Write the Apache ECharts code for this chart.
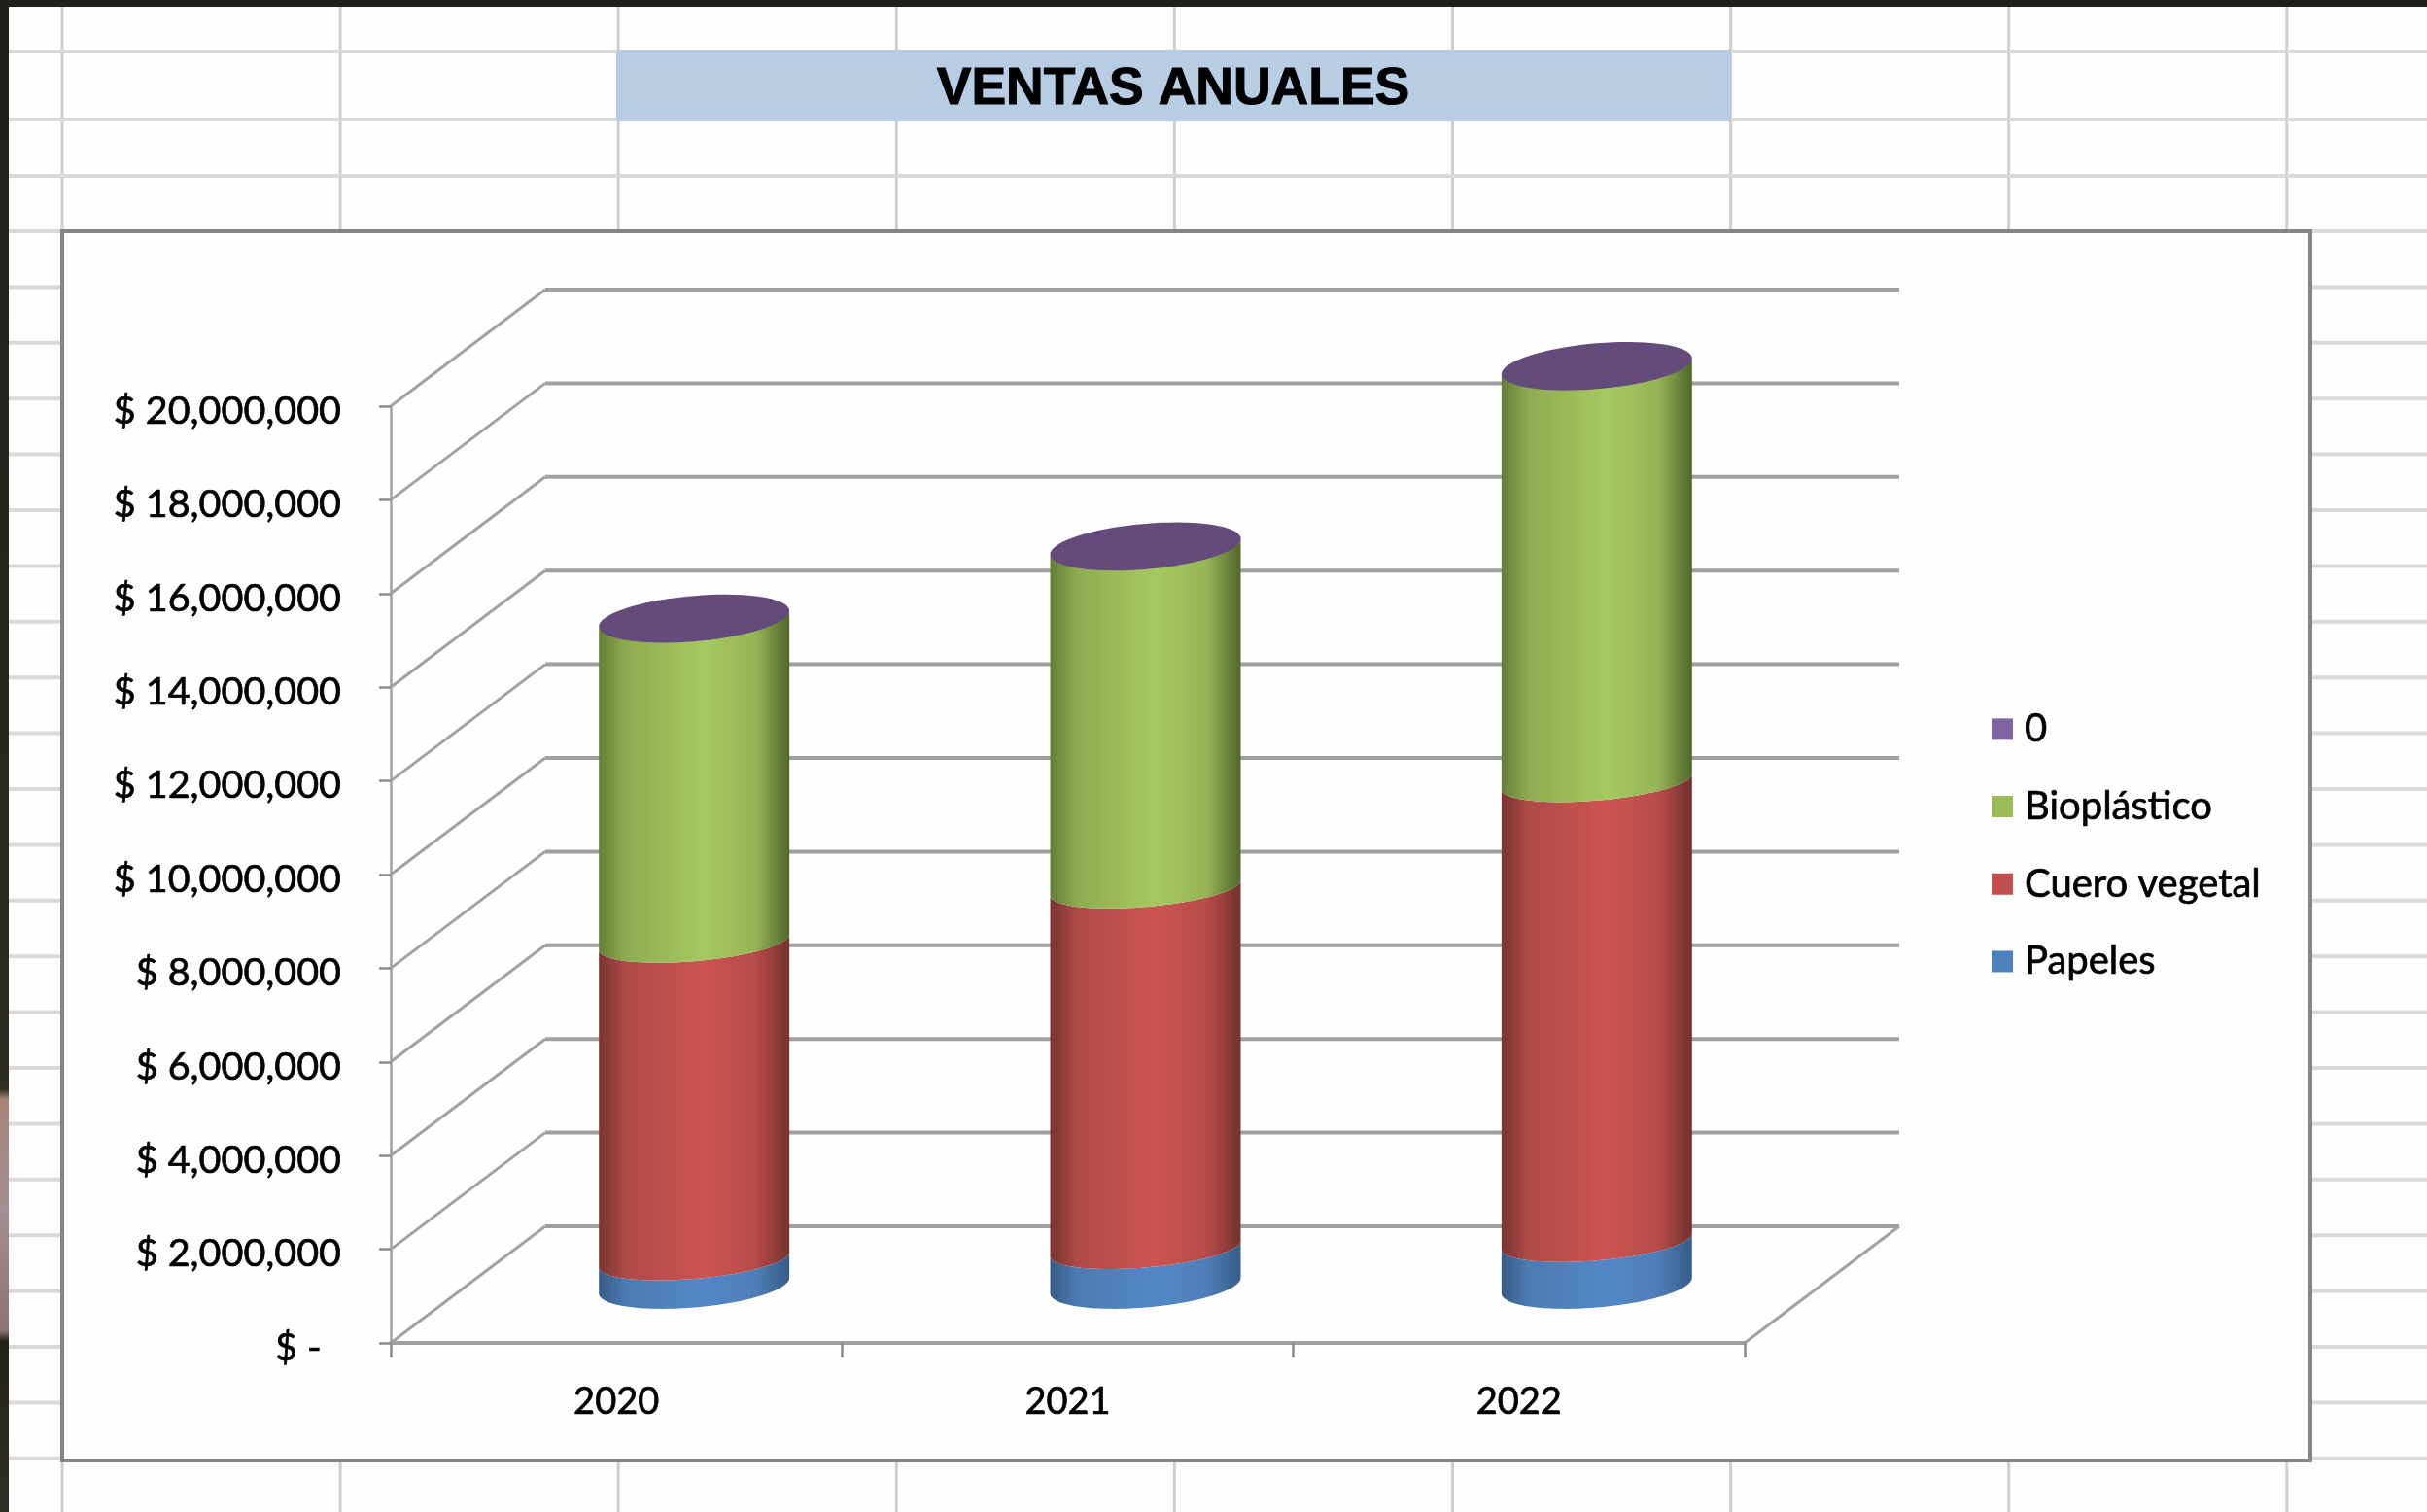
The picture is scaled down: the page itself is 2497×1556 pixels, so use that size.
<!DOCTYPE html>
<html>
<head>
<meta charset="utf-8">
<title>VENTAS ANUALES</title>
<script src="https://cdn.jsdelivr.net/npm/echarts@6/dist/echarts.min.js"></script>
<style>
  html, body { margin: 0; padding: 0; background: #fff; overflow: hidden; }
  #myChart { width: 2497px; height: 1556px; }
  #myChart canvas { filter: blur(0.7px); }
</style>
</head>
<body>
<div id="myChart"></div>
<script>
const years = ['2020', '2021', '2022']
const papeles = [550000, 790000, 940000]
const cueroVegetal = [6780000, 7700000, 9820000]
const bioplastico = [6910000, 7290000, 8870000]
const cero = [0, 0, 0]
const yTicks = [0, 2000000, 4000000, 6000000, 8000000, 10000000, 12000000, 14000000, 16000000, 18000000, 20000000]

// depth of the fake 3d box, in pixels
const depthX = 159
const depthY = -120
// cylinders stand in the middle of that depth
const midX = 80
const midY = -59

const shades = {
  blue: ['#385c85', '#4b7bb0', '#5487c8', '#4f7fb8', '#375d88'],
  red: ['#7a3532', '#ae4a48', '#cc5350', '#b64c4a', '#753230'],
  green: ['#657d3a', '#8fab50', '#a5c860', '#96b557', '#51672d']
}

function gradient(c) {
  return new echarts.graphic.LinearGradient(0, 0, 1, 0, [
    { offset: 0, color: c[0] },
    { offset: 0.14, color: c[1] },
    { offset: 0.55, color: c[2] },
    { offset: 0.82, color: c[3] },
    { offset: 1, color: c[4] }
  ])
}

// front half of the tilted ellipse, left tip to right tip
function frontArc(cx, cy, rx, ry) {
  const pts = []
  for (let i = 0; i <= 48; i++) {
    const t = Math.PI - (Math.PI * i) / 48
    pts.push([cx + rx * Math.cos(t), cy - rx * 0.082 * Math.cos(t) + ry * Math.sin(t)])
  }
  return pts
}

function cylinder(shade) {
  return function(params, api) {
    const bottom = api.coord([api.value(0), api.value(1)])
    const top = api.coord([api.value(0), api.value(2)])
    const rx = api.size([1, 0])[0] * 0.211
    const cx = bottom[0] + midX
    const lower = frontArc(cx, bottom[1] + midY, rx, api.value(1) === 0 ? 22.5 : 19.5)
    const upper = frontArc(cx, top[1] + midY, rx, 19.5).reverse()
    return {
      type: 'polygon',
      shape: { points: lower.concat(upper) },
      style: { fill: gradient(shade) }
    }
  }
}

function cap(params, api) {
  const top = api.coord([api.value(0), api.value(2)])
  const rx = api.size([1, 0])[0] * 0.211
  const cx = top[0] + midX
  const cy = top[1] + midY
  const pts = []
  for (let i = 0; i < 72; i++) {
    const t = (Math.PI * 2 * i) / 72
    pts.push([cx + rx * Math.cos(t), cy - rx * 0.082 * Math.cos(t) + 23.5 * Math.sin(t)])
  }
  return { type: 'polygon', shape: { points: pts }, style: { fill: '#644b7c' } }
}

// walls and floor lines, one set for each y tick
function wall(params, api) {
  const y = api.coord([0, api.value(1)])[1]
  const left = params.coordSys.x
  const right = left + params.coordSys.width
  const lineH = { stroke: '#a0a0a0', lineWidth: 4 }
  const lineD = { stroke: '#a2a2a2', lineWidth: 3 }
  const children = [
    { type: 'line', shape: { x1: left, y1: y, x2: left + depthX, y2: y + depthY }, style: lineD },
    { type: 'line', shape: { x1: left + depthX, y1: y + depthY, x2: right + depthX, y2: y + depthY }, style: lineH }
  ]
  if (api.value(1) === 0) {
    children.push({ type: 'line', shape: { x1: right, y1: y, x2: right + depthX, y2: y + depthY }, style: lineD })
  }
  return { type: 'group', children: children }
}

function stackedFrom(values, below) {
  return values.map((v, i) => {
    const base = below.reduce((acc, cur) => acc + cur[i], 0)
    return [i, base, base + v]
  })
}

function sheetGraphics() {
  const out = []
  out.push({ type: 'rect', z: -30, shape: { x: 0, y: 0, width: 2497, height: 1556 }, style: { fill: '#fdfdfd' } })
  for (let x = 64; x < 2497; x += 286.1) {
    out.push({ type: 'line', z: -20, shape: { x1: x, y1: 7, x2: x, y2: 1556 }, style: { stroke: '#cfcfcf', lineWidth: 3 } })
  }
  const rows = [53, 123, 181]
  for (let i = 0; i < 24; i++) rows.push(238 + 57.4 * i)
  rows.forEach(y => {
    out.push({ type: 'line', z: -20, shape: { x1: 9, y1: y, x2: 2497, y2: y }, style: { stroke: '#d9d9d9', lineWidth: 4 } })
  })
  // window edge behind the sheet
  out.push({ type: 'rect', z: -10, shape: { x: 0, y: 0, width: 2497, height: 7 }, style: { fill: '#20201b' } })
  out.push({
    type: 'rect',
    z: -10,
    shape: { x: 0, y: 0, width: 9, height: 1556 },
    style: {
      fill: new echarts.graphic.LinearGradient(0, 0, 0, 1, [
        { offset: 0, color: '#20201b' },
        { offset: 0.6, color: '#2a2a22' },
        { offset: 0.72, color: '#2f2c20' },
        { offset: 0.727, color: '#a88378' },
        { offset: 0.8, color: '#a39090' },
        { offset: 0.88, color: '#8e7270' },
        { offset: 0.887, color: '#23231b' },
        { offset: 1, color: '#332e24' }
      ])
    }
  })
  // title band
  out.push({ type: 'rect', z: -5, shape: { x: 634, y: 51, width: 1147, height: 74 }, style: { fill: '#b8cce4' } })
  // chart frame
  out.push({
    type: 'rect',
    z: -5,
    shape: { x: 64, y: 238, width: 2313, height: 1265 },
    style: { fill: '#fefefe', stroke: '#858585', lineWidth: 4 }
  })
  return out
}

const myChart = echarts.init(document.getElementById('myChart'))
const textFont = 'Lato'
const heavy = { textBorderColor: '#000', textBorderWidth: 0.7 }
const option = {
  animation: false,
  backgroundColor: '#fff',
  graphic: { elements: sheetGraphics() },
  title: {
    text: 'VENTAS ANUALES',
    left: 1202,
    top: 60,
    textAlign: 'center',
    textStyle: { fontFamily: 'Liberation Sans', fontWeight: 'bold', fontSize: 53.5, color: '#000', textBorderColor: '#000', textBorderWidth: 1 }
  },
  legend: {
    data: ['0', 'Bioplástico', 'Cuero vegetal', 'Papeles'],
    orient: 'vertical',
    left: 2044,
    top: 725,
    itemWidth: 22,
    itemHeight: 22,
    itemGap: 39,
    icon: 'rect',
    textStyle: { fontFamily: textFont, fontSize: 40, color: '#000', padding: [0, 0, 0, 7], ...heavy }
  },
  grid: { left: 402, top: 418, width: 1393, height: 964 },
  xAxis: {
    type: 'category',
    data: years,
    offset: 1,
    axisLine: { lineStyle: { color: '#a0a0a0', width: 4 } },
    axisTick: { show: true, length: 15, lineStyle: { color: '#8c8c8c', width: 2.5 } },
    axisLabel: { margin: 41, fontFamily: textFont, fontSize: 38, color: '#000', ...heavy }
  },
  yAxis: {
    type: 'value',
    min: 0,
    max: 20000000,
    interval: 2000000,
    splitLine: { show: false },
    axisLine: { show: true, lineStyle: { color: '#a0a0a0', width: 2.5 } },
    axisTick: { show: true, length: 12, lineStyle: { color: '#8c8c8c', width: 2.5 } },
    axisLabel: {
      margin: 51,
      fontFamily: textFont,
      fontSize: 39.5,
      color: '#000',
      // labels sit a little under their ticks in the original
      verticalAlign: 'top',
      lineHeight: 10,
      ...heavy,
      formatter: function(v) {
        return v === 0 ? '$ -  ' : '$ ' + v.toLocaleString('en-US')
      }
    }
  },
  series: [
    {
      name: 'paredes',
      type: 'custom',
      silent: true,
      z: 1,
      data: yTicks.map(v => [0, v]),
      renderItem: wall
    },
    {
      name: 'Papeles',
      type: 'custom',
      itemStyle: { color: '#4f81bd' },
      encode: { x: 0, y: [1, 2] },
      data: stackedFrom(papeles, []),
      renderItem: cylinder(shades.blue)
    },
    {
      name: 'Cuero vegetal',
      type: 'custom',
      itemStyle: { color: '#c0504d' },
      encode: { x: 0, y: [1, 2] },
      data: stackedFrom(cueroVegetal, [papeles]),
      renderItem: cylinder(shades.red)
    },
    {
      name: 'Bioplástico',
      type: 'custom',
      itemStyle: { color: '#9bbb59' },
      encode: { x: 0, y: [1, 2] },
      data: stackedFrom(bioplastico, [papeles, cueroVegetal]),
      renderItem: cylinder(shades.green)
    },
    {
      name: '0',
      type: 'custom',
      itemStyle: { color: '#8064a2' },
      encode: { x: 0, y: [1, 2] },
      data: stackedFrom(cero, [papeles, cueroVegetal, bioplastico]),
      renderItem: cap
    }
  ]
}
myChart.setOption(option)
</script>
</body>
</html>
